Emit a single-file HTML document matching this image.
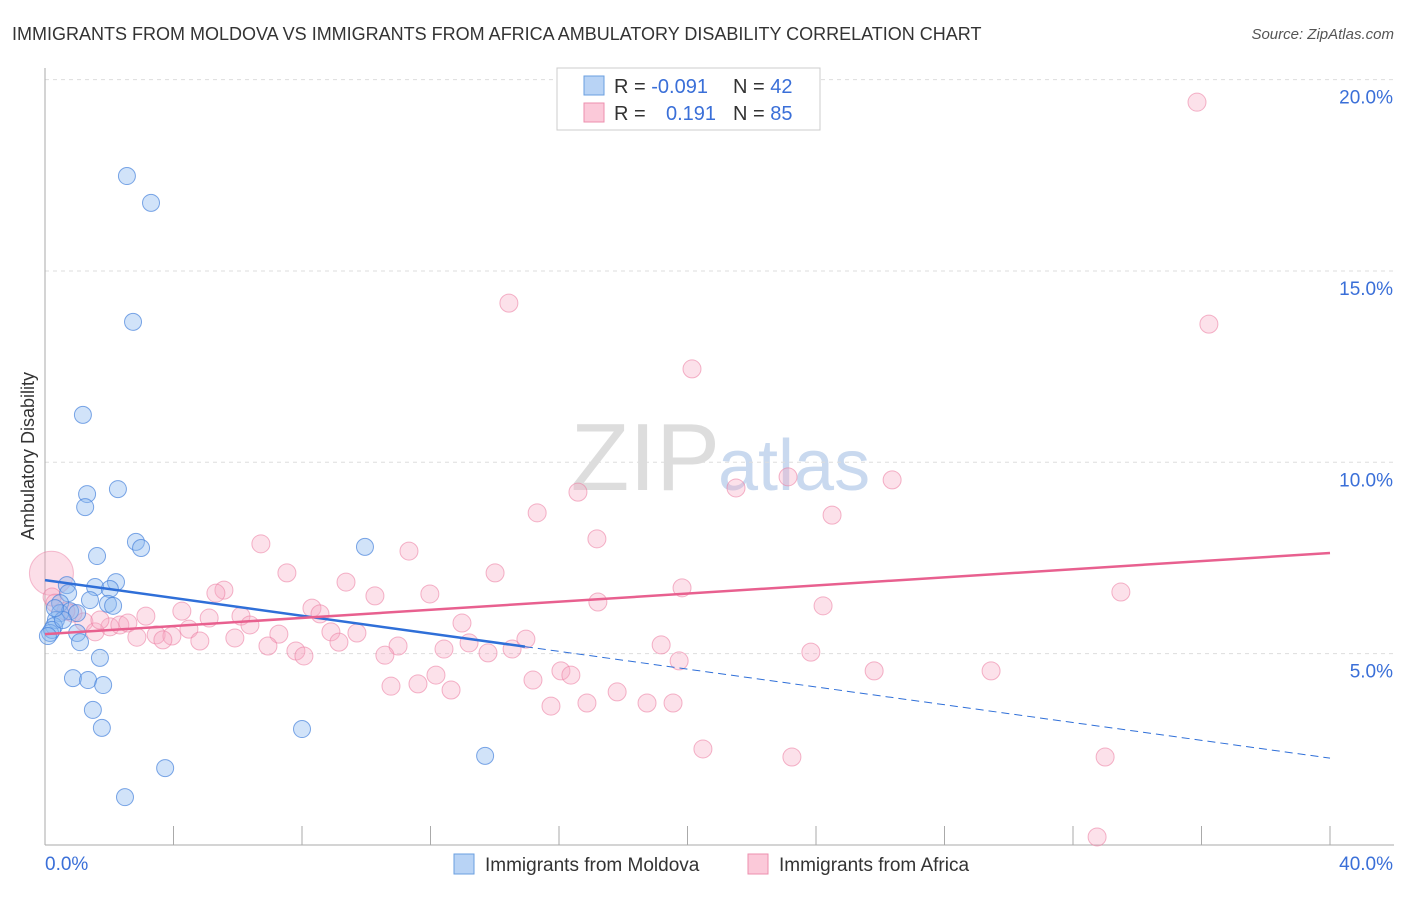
<!DOCTYPE html>
<html><head><meta charset="utf-8"><style>
body{margin:0;background:#fff;font-family:"Liberation Sans",sans-serif}
svg text{font-family:"Liberation Sans",sans-serif}
</style></head><body>
<svg id="chart" width="1406" height="892">
<text x="12" y="40" font-size="18" fill="#333">IMMIGRANTS FROM MOLDOVA VS IMMIGRANTS FROM AFRICA AMBULATORY DISABILITY CORRELATION CHART</text>
<text x="1394" y="39" font-size="15" fill="#555" text-anchor="end" font-style="italic">Source: ZipAtlas.com</text>
<text x="720" y="490" font-size="96" fill="#ddd" text-anchor="end" font-family="Liberation Serif">ZIP</text>
<text x="718" y="490" font-size="72" fill="#c9d9ef">atlas</text>
<text transform="translate(34,456) rotate(-90)" font-size="18" fill="#333" text-anchor="middle">Ambulatory Disability</text>
<g id="grid"></g><g id="axes"></g><g id="pts"></g><g id="trend"></g>
<g>
<rect x="557" y="68" width="263" height="62" fill="#fff" stroke="#ccc"/>
<rect x="584" y="76" width="20" height="19" fill="#b8d3f5" stroke="#6a9fe0"/>
<rect x="584" y="103" width="20" height="19" fill="#fbc9d9" stroke="#ec8fae"/>
<text x="614" y="93" font-size="20" fill="#333">R = <tspan fill="#3a6fd8">-0.091</tspan></text>
<text x="733" y="93" font-size="20" fill="#333">N = <tspan fill="#3a6fd8">42</tspan></text>
<text x="614" y="120" font-size="20" fill="#333">R = <tspan fill="#3a6fd8" x="666">0.191</tspan></text>
<text x="733" y="120" font-size="20" fill="#333">N = <tspan fill="#3a6fd8">85</tspan></text>
</g>
<g>
<rect x="454" y="854" width="20" height="20" fill="#b8d3f5" stroke="#6a9fe0"/>
<text x="485" y="871" font-size="19" fill="#333">Immigrants from Moldova</text>
<rect x="748" y="854" width="20" height="20" fill="#fbc9d9" stroke="#ec8fae"/>
<text x="779" y="871" font-size="19" fill="#333">Immigrants from Africa</text>
</g>
</svg>
<script>
const yTicks=[5,10,15,20];
const yTickLabels=["5.0%","10.0%","15.0%","20.0%"];
const xLabels=["0.0%","40.0%"];
const blueX=[2.55,3.30,2.74,1.18,1.31,2.27,1.25,2.83,2.99,1.62,9.96,0.68,1.56,2.21,2.02,0.72,0.47,1.40,1.96,2.12,0.47,0.78,1.00,0.34,0.28,0.16,1.00,1.09,1.71,0.87,1.34,1.81,1.49,1.77,8.00,3.74,2.49,13.70,0.22,0.09,0.56,0.31];
const blueY=[17.48,16.78,13.67,11.24,9.17,9.30,8.83,7.92,7.76,7.55,7.79,6.79,6.74,6.87,6.69,6.58,6.32,6.40,6.30,6.25,6.06,6.11,6.06,5.88,5.72,5.54,5.54,5.30,4.89,4.36,4.31,4.18,3.53,3.06,3.03,2.01,1.25,2.33,5.62,5.46,5.88,6.19];
const pinkX=[35.86,14.44,36.23,20.14,16.59,21.51,23.13,26.37,15.32,24.50,17.18,6.72,11.33,7.53,14.01,9.37,5.57,5.32,10.27,11.98,19.83,33.49,17.21,24.22,8.31,8.56,4.26,3.14,5.11,6.10,0.22,0.31,0.87,1.21,2.02,2.33,2.58,3.46,3.95,4.48,3.67,4.82,5.91,6.38,7.28,6.94,8.90,9.71,9.15,7.81,8.06,10.99,10.58,12.42,12.98,13.20,13.79,14.54,14.97,19.18,23.84,19.74,12.17,10.77,11.61,12.64,15.19,16.06,16.37,17.81,16.87,15.75,18.74,19.55,25.81,29.45,20.48,23.25,33.00,32.75,1.56,1.71,0.65,2.86];
const pinkY=[19.41,14.16,13.61,12.44,9.22,9.33,9.62,9.54,8.68,8.62,8.00,7.87,7.68,7.11,7.11,6.87,6.66,6.58,6.51,6.56,6.72,6.61,6.35,6.25,6.19,6.04,6.11,5.98,5.93,5.98,6.48,6.32,6.06,5.83,5.70,5.75,5.80,5.49,5.46,5.64,5.36,5.33,5.41,5.75,5.51,5.20,5.57,5.54,5.30,5.07,4.94,5.20,4.96,5.12,5.80,5.28,5.02,5.12,5.38,5.23,5.04,4.81,4.44,4.15,4.21,4.05,4.31,4.55,4.44,4.00,3.71,3.63,3.71,3.71,4.55,4.55,2.51,2.30,2.30,0.21,5.57,5.88,6.11,5.43];
const blueTrend=[6.92,2.27], blueSolidEnd=14.94;
const pinkTrend=[5.51,7.63];
const NS="http://www.w3.org/2000/svg";
const sx=v=>45+v*32.125, sy=v=>845-v*38.27;
function mk(tag,attrs,parent){const e=document.createElementNS(NS,tag);for(const k in attrs)e.setAttribute(k,attrs[k]);document.getElementById(parent).appendChild(e);return e;}
yTicks.forEach((t,i)=>{
 const l=mk('line',{x1:45,x2:1394,y1:sy(t),y2:sy(t),stroke:'#ddd','stroke-dasharray':'4,4'},'grid');
 
 
 const tx=mk('text',{x:1393,y:sy(t)+24,'font-size':19,fill:'#3a6fd8','text-anchor':'end'},'grid');
 tx.textContent=yTickLabels[i];
 
 
});
const ax=mk('line',{x1:45,x2:45,y1:68,y2:845,stroke:'#aaa'},'axes');


const bx=mk('line',{x1:45,x2:1394,y1:845,y2:845,stroke:'#aaa'},'axes');


for(let i=0;i<=10;i++){const tk=mk('line',{x1:sx(i*4),x2:sx(i*4),y1:826,y2:845,stroke:'#aaa'},'axes');
 
 }
[[0,'start',45],[40,'end',1393]].forEach((d,i)=>{const t=mk('text',{x:d[2],y:870,'font-size':19,fill:'#3a6fd8','text-anchor':d[1]},'axes');t.textContent=xLabels[i];
 
 });
const big=mk('circle',{cx:sx(0.2),cy:sy(7.1),r:22,fill:'rgba(246,160,190,0.35)',stroke:'rgba(236,130,165,0.5)'},'pts');


pinkX.forEach((x,i)=>{const c=mk('circle',{cx:sx(x),cy:sy(pinkY[i]),r:9,fill:'rgba(246,170,196,0.35)',stroke:'rgba(236,130,165,0.6)'},'pts');
 
 });
blueX.forEach((x,i)=>{const c=mk('circle',{cx:sx(x),cy:sy(blueY[i]),r:8.5,fill:'rgba(140,184,240,0.4)',stroke:'rgba(70,130,220,0.7)'},'pts');
 
 });
const by=x=>blueTrend[0]+(blueTrend[1]-blueTrend[0])*x/40;
const b1=mk('line',{x1:sx(0),y1:sy(by(0)),x2:sx(blueSolidEnd),y2:sy(by(blueSolidEnd)),stroke:'#2f6fd8','stroke-width':2.5},'trend');


const b2=mk('line',{x1:sx(blueSolidEnd),y1:sy(by(blueSolidEnd)),x2:sx(40),y2:sy(by(40)),stroke:'#2f6fd8','stroke-width':1,'stroke-dasharray':'8,5'},'trend');


const p1=mk('line',{x1:sx(0),y1:sy(pinkTrend[0]),x2:sx(40),y2:sy(pinkTrend[1]),stroke:'#e8608f','stroke-width':2.5},'trend');


</script>
</body></html>
